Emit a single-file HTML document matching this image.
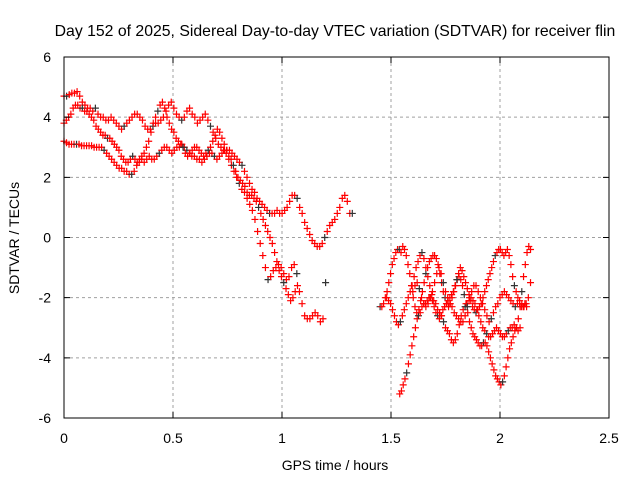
<!DOCTYPE html>
<html><head><meta charset="utf-8"><style>
body{margin:0;background:#fff}
svg{display:block;font-family:"Liberation Sans",sans-serif}
</style></head><body>
<svg id="chart" width="640" height="480" viewBox="0 0 640 480">
<text x="335" y="36" font-size="15.8" text-anchor="middle">Day 152 of 2025, Sidereal Day-to-day VTEC variation (SDTVAR) for receiver flin</text>
<g id="grid"></g>
<g id="marks"></g>
<rect x="64" y="57" width="545" height="361" fill="none" stroke="#000" stroke-width="1"/>
<g id="ticks"></g>
<text x="335" y="470" font-size="14" text-anchor="middle">GPS time / hours</text>
<text transform="translate(19,238) rotate(-90)" font-size="14" text-anchor="middle">SDTVAR / TECUs</text>
</svg>
<script>
const xTicks=[0,0.5,1,1.5,2,2.5];
const xTickLabels=["0","0.5","1","1.5","2","2.5"];
const yTicks=[-6,-4,-2,0,2,4,6];
const yTickLabels=["-6","-4","-2","0","2","4","6"];
const traceStarts=[0,0,0,1.54,1.45,1.48,1.6];
const traceSteps=[0.0115,0.012,0.0105,0.008,0.008,0.009,0.01];
const trace1=[3.2,3.15,3.1,3.1,3.1,3.1,3.1,3.05,3.05,3.05,3.05,3.05,3.0,3.0,3.0,3.0,2.9,2.8,2.7,2.6,2.5,2.4,2.3,2.3,2.2,2.2,2.1,2.1,2.2,2.4,2.5,2.6,2.5,2.6,2.7,2.6,2.6,2.7,2.8,2.9,3.0,3.0,2.9,2.8,2.9,3.0,3.0,3.1,3.0,2.9,2.8,2.7,2.7,2.6,2.6,2.5,2.6,2.7,2.8,2.8,2.7,2.6,2.7,2.8,2.9,2.9,2.9,2.8,2.7,2.6,2.5,2.4,2.2,2.0,1.8,1.6,1.5,1.3,1.2,1.1,1.0,0.9,0.8,0.8,0.8,0.9,0.8,0.8,0.9,1.0,1.2,1.4,1.4,1.3,1.0,0.8,0.5,0.3,0.1,-0.1,-0.2,-0.3,-0.3,-0.2,0,0.2,0.4,0.5,0.6,0.8,1.0,1.3,1.4,1.2,0.8,0.8];
const trace2=[4.7,4.7,4.75,4.8,4.8,4.85,4.7,4.5,4.4,4.3,4.3,4.2,4.3,4.1,4.0,4.0,3.9,3.9,4.0,3.9,3.8,3.7,3.6,3.7,3.8,3.9,4.0,4.1,4.1,4.0,3.9,3.7,3.6,3.6,3.7,3.8,3.8,3.9,4.0,4.2,4.4,4.5,4.3,4.1,4.0,3.9,4.0,4.2,4.3,4.1,4.0,3.8,3.9,4.0,4.1,3.9,3.7,3.5,3.3,3.1,3.0,2.9,2.8,2.6,2.4,2.2,2.0,1.8,1.6,1.5,1.3,1.1,0.9,0.6,0.2,-0.2,-0.6,-1.0,-1.4,-1.3,-1.1,-1.0,-0.9,-1.0,-1.2,-1.4,-1.3,-1.0,-0.9,-1.2,-1.8,-2.2,-2.6,-2.7,-2.7,-2.6,-2.5,-2.6,-2.8,-2.7,-1.5];
const trace3=[3.8,3.9,4.0,4.1,4.3,4.4,4.4,4.3,4.3,4.2,4.2,4.1,4.0,3.9,3.7,3.6,3.5,3.4,3.4,3.3,3.3,3.2,3.1,3.0,2.9,2.7,2.6,2.5,2.5,2.6,2.7,2.6,2.5,2.6,2.7,2.8,3.0,3.2,3.5,3.8,4.0,4.2,4.4,4.5,4.3,4.0,3.8,3.6,3.5,3.3,3.2,3.1,3.0,2.8,2.7,2.8,2.9,3.0,3.0,2.9,2.8,2.7,2.8,2.9,3.0,3.2,3.4,3.6,3.5,3.3,3.1,2.9,2.7,2.6,2.4,2.2,2.0,1.9,1.8,1.7,1.5,1.4,1.4,1.3,1.2,1.0,0.8,0.6,0.4,0.2,0.0,-0.2,-0.5,-0.8,-1.1,-1.3,-1.5,-1.7,-1.9,-2.1,-2.0,-1.8,-1.6];
const trace4=[-5.2,-5.1,-4.9,-4.7,-4.5,-4.2,-3.9,-3.6,-3.3,-3.0,-2.7,-2.4,-2.1,-1.8,-1.5,-1.2,-1.0,-0.8,-0.7,-0.6,-0.6,-0.7,-0.9,-1.2,-1.5,-1.8,-2.0,-2.2,-2.3,-2.2,-2.0,-1.8,-1.6,-1.4,-1.3,-1.4,-1.6,-1.9,-2.2,-2.5,-2.8,-3.0,-3.2,-3.3,-3.4,-3.5,-3.6,-3.6,-3.5,-3.5,-3.6,-3.8,-4.0,-4.2,-4.4,-4.6,-4.7,-4.8,-4.9,-4.8,-4.6,-4.3,-4.0,-3.7,-3.5,-3.3,-3.1,-3.0,-2.7,-2.3,-1.8,-1.3,-0.9,-0.5,-0.3,-0.4];
const trace5=[-2.3,-2.3,-2.2,-2.0,-1.8,-1.5,-1.2,-0.9,-0.7,-0.5,-0.4,-0.4,-0.5,-0.3,-0.4,-0.6,-0.9,-1.2,-1.6,-2.0,-2.3,-2.5,-2.6,-2.5,-2.3,-2.2,-2.2,-2.1,-2.0,-2.0,-2.1,-2.3,-2.5,-2.6,-2.7,-2.6,-2.4,-2.3,-2.2,-2.1,-2.0,-1.9,-1.8,-1.6,-1.4,-1.2,-1.0,-1.1,-1.3,-1.5,-1.7,-1.9,-2.1,-2.3,-2.4,-2.5,-2.4,-2.3,-2.2,-2.0,-1.8,-1.6,-1.4,-1.2,-1.0,-0.8,-0.6,-0.5,-0.4,-0.4,-0.5,-0.6,-0.5,-0.4,-0.6,-0.9,-1.3,-1.6,-1.8,-2.0,-2.2,-2.3,-2.3,-2.2,-2.3];
const trace6=[-2.0,-2.1,-2.2,-2.4,-2.6,-2.8,-2.9,-2.8,-2.6,-2.4,-2.2,-2.0,-1.8,-1.6,-1.3,-1.0,-0.8,-0.6,-0.5,-0.7,-1.0,-1.3,-1.6,-1.9,-2.1,-2.2,-2.4,-2.5,-2.6,-2.8,-3.0,-3.1,-3.2,-3.4,-3.5,-3.4,-3.2,-2.9,-2.6,-2.4,-2.3,-2.2,-2.1,-2.0,-2.1,-2.2,-2.4,-2.6,-2.8,-3.0,-3.1,-3.2,-3.3,-3.3,-3.2,-3.1,-3.0,-3.1,-3.2,-3.3,-3.3,-3.2,-3.1,-3.0,-3.0,-2.9,-3.0,-3.1,-3.0];
const trace7=[-1.8,-1.6,-1.5,-1.7,-2.0,-2.2,-2.3,-2.2,-2.0,-1.8,-1.5,-1.2,-1.0,-1.2,-1.5,-1.8,-2.0,-2.2,-2.3,-2.5,-2.6,-2.7,-2.8,-2.8,-2.6,-2.3,-2.0,-1.8,-1.6,-1.6,-1.8,-2.0,-2.2,-2.4,-2.6,-2.8,-2.7,-2.5,-2.3,-2.2,-2.0,-1.9,-1.8,-1.9,-2.0,-2.1,-2.2,-2.3,-2.2,-2.1,-2.2,-2.3,-2.2,-2.0,-1.5];
const traces=[trace1,trace2,trace3,trace4,trace5,trace6,trace7];

const NS="http://www.w3.org/2000/svg";
const X0=64,X1=609,Y0=418,Y1=57;
function xs(v){return X0+(v-0)/(2.5-0)*(X1-X0);}
function ys(v){return Y0-(v+6)/12*(Y0-Y1);}
const grid=document.getElementById('grid'),ticks=document.getElementById('ticks'),marks=document.getElementById('marks');
function mk(tag,attrs,parent){const e=document.createElementNS(NS,tag);for(const k in attrs)e.setAttribute(k,attrs[k]);parent.appendChild(e);return e;}
xTicks.forEach((t,i)=>{
  const x=xs(t);
  if(i>0&&i<xTicks.length-1){const g=mk('line',{x1:x,x2:x,y1:Y1,y2:Y0,stroke:'#a0a0a0','stroke-dasharray':'3,3'},grid);
  
  }
  const tk=mk('path',{d:`M${x},${Y0}v-6M${x},${Y1}v6`,stroke:'#000'},ticks);
  
  
  const l=mk('text',{x:x,y:443,'font-size':14,'text-anchor':'middle'},ticks);l.textContent=xTickLabels[i];
  
  
});
yTicks.forEach((t,i)=>{
  const y=ys(t);
  if(i>0&&i<yTicks.length-1){const g=mk('line',{x1:X0,x2:X1,y1:y,y2:y,stroke:'#a0a0a0','stroke-dasharray':'3,3'},grid);
  
  }
  const tk=mk('path',{d:`M${X0},${y}h6M${X1},${y}h-6`,stroke:'#000'},ticks);
  
  
  const l=mk('text',{x:51,y:y+5,'font-size':14,'text-anchor':'end'},ticks);l.textContent=yTickLabels[i];
  
  
});
traces.forEach((tr,ti)=>{
  tr.forEach((v,i)=>{
    const x=xs(traceStarts[ti]+i*traceSteps[ti]),y=ys(v);
    const col=((i*3+ti)%11===4)?'#333':'#f00';
    const p=mk('path',{d:`M${x-3.5},${y}h7M${x},${y-3.5}v7`,stroke:col,'stroke-width':1.2,fill:'none'},marks);
    
    
  });
});
</script>
</body></html>
